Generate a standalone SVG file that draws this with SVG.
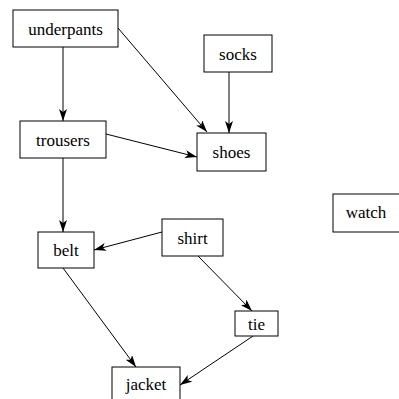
<svg xmlns="http://www.w3.org/2000/svg" width="399" height="399" viewBox="0 0 399 399">
  <style>
    .node rect { fill: #fff; stroke: #000; stroke-width: 1; }
    .node text { font-family: "Liberation Serif", "Times New Roman", serif; font-size: 17px; fill: #000; text-anchor: middle; }
    .edges path { fill: none; stroke: #000; stroke-width: 1; marker-end: url(#arrow); }
  </style>
  <defs>
    <marker id="arrow" viewBox="0 0 12 8" markerWidth="12" markerHeight="8" refX="12" refY="4" orient="auto" markerUnits="userSpaceOnUse">
      <path d="M0,0 L12,4 L0,8 L3,4 z" fill="#000"/>
    </marker>
  </defs>
  <rect width="399" height="399" fill="#fff"/>

  <g class="edges">
    <path d="M63,47 L63,121"/>
    <path d="M118,28 L207,132"/>
    <path d="M106,134 L197,157"/>
    <path d="M229,72 L229,133"/>
    <path d="M63,158 L63,232"/>
    <path d="M162,232 L94,250"/>
    <path d="M63,268 L136,367"/>
    <path d="M198,256 L252,311"/>
    <path d="M253,336 L180,385"/>
  </g>

  <g id="underpants" class="node">
    <rect x="13" y="10" width="105" height="37"/>
    <text x="65.5" y="34.5">underpants</text>
  </g>
  <g id="socks" class="node">
    <rect x="204" y="35" width="68" height="37"/>
    <text x="238" y="59.5">socks</text>
  </g>
  <g id="trousers" class="node">
    <rect x="20" y="121" width="86" height="37"/>
    <text x="63" y="145.5">trousers</text>
  </g>
  <g id="shoes" class="node">
    <rect x="197" y="133" width="69" height="38"/>
    <text x="231.5" y="158">shoes</text>
  </g>
  <g id="watch" class="node">
    <rect x="333" y="194" width="70" height="38"/>
    <text x="366" y="217.5">watch</text>
  </g>
  <g id="shirt" class="node">
    <rect x="162" y="219" width="61" height="37"/>
    <text x="192.5" y="244">shirt</text>
  </g>
  <g id="belt" class="node">
    <rect x="38" y="232" width="56" height="36"/>
    <text x="66" y="255.5">belt</text>
  </g>
  <g id="tie" class="node">
    <rect x="235" y="311" width="43" height="25"/>
    <text x="256.5" y="329.5">tie</text>
  </g>
  <g id="jacket" class="node">
    <rect x="112" y="367" width="68" height="40"/>
    <text x="146" y="390">jacket</text>
  </g>
</svg>
